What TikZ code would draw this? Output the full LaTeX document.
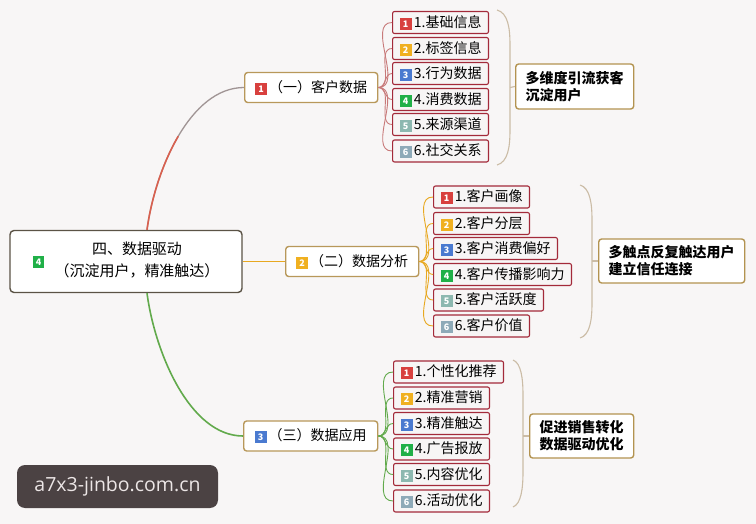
\documentclass[tikz,border=0pt]{standalone}
\usepackage{fontspec}
\setmainfont{Noto Sans CJK SC}
\newfontfamily\wmfont{Open Sans}
\usetikzlibrary{calc}
\definecolor{bg}{HTML}{F8F6F6}
\definecolor{itemred}{HTML}{A32A3A}
\definecolor{itemfill}{HTML}{F7F5F5}
\definecolor{tanc}{HTML}{B8985A}
\definecolor{rootc}{HTML}{5B5346}
\definecolor{goldc}{HTML}{B39350}
\definecolor{bracec}{HTML}{CBBCA6}
\definecolor{b1}{HTML}{D8403E}
\definecolor{b2}{HTML}{F0B020}
\definecolor{b3}{HTML}{4A7AD0}
\definecolor{b4}{HTML}{20B048}
\definecolor{b5}{HTML}{8DB8B0}
\definecolor{b6}{HTML}{8EAAB8}
\definecolor{redl}{HTML}{D9604F}
\definecolor{grayl}{HTML}{A09494}
\definecolor{redt}{HTML}{C87A7A}
\definecolor{orl}{HTML}{E8A820}
\definecolor{grl}{HTML}{62AA4C}
\definecolor{wmbg}{HTML}{4B4243}
\definecolor{wmtx}{HTML}{ECE6E6}
\newcommand\bdg[2]{{\setlength\fboxsep{0pt}\colorbox{#1}{\makebox[12pt][c]{\rule[-2.5pt]{0pt}{12pt}\color{white}\fontsize{9}{9}\selectfont\bfseries #2}}}}
\tikzset{
  itembox/.style={draw=itemred, fill=itemfill, line width=1.1pt, rounded corners=2pt,
    minimum height=22pt, inner xsep=7pt, inner ysep=0pt, anchor=west,
    font=\fontsize{14}{14}\selectfont},
  branchbox/.style={draw=tanc, fill=white, line width=1.4pt, rounded corners=3pt,
    minimum height=30pt, inner xsep=8pt, anchor=west, font=\fontsize{14}{14}\selectfont},
  sumbox/.style={draw=goldc, fill=white, line width=1.4pt, rounded corners=3pt,
    align=left, anchor=west, inner xsep=9pt, inner ysep=6pt,
    font=\fontsize{14}{17}\selectfont\bfseries},
  rootbox/.style={draw=rootc, fill=white, line width=1.4pt, rounded corners=4pt,
    minimum width=232pt, minimum height=62pt, font=\fontsize{15}{22}\selectfont},
  brace/.style={draw=bracec, line width=1.1pt},
  c1/.style={draw=redt, line width=0.9pt},
  c2/.style={draw=orl, line width=0.9pt},
  c3/.style={draw=grl, line width=0.9pt},
}
\begin{document}
\begin{tikzpicture}[x=1pt,y=-1pt]
\fill[bg] (0,0) rectangle (756,524);
\useasboundingbox (0,0) rectangle (756,524);

% root
\node[rootbox] (root) at (126,261.5) {\bdg{b4}{4}\hspace{10pt}\begin{tabular}{@{}c@{}}四、数据驱动\\（沉淀用户，精准触达）\end{tabular}};

% branches
\node[branchbox, minimum width=133pt] (br1) at (244,87.5) {\bdg{b1}{1}\hspace{2pt}（一）客户数据};
\node[branchbox, minimum width=133pt] (br2) at (285,261.5) {\bdg{b2}{2}\hspace{2pt}（二）数据分析};
\node[branchbox, minimum width=134pt] (br3) at (243,436) {\bdg{b3}{3}\hspace{2pt}（三）数据应用};

% root connectors
\coordinate (r1) at ([xshift=21pt]root.north);
\coordinate (r1m) at (178.25,136.25);
\draw[grayl, line width=1.3pt] (r1) .. controls (155,170) and (190,87.5) .. (br1.west);
\draw[redl, line width=1.6pt] (r1) .. controls (151,200) and (161.75,164.375) .. (r1m);
\draw[orl, line width=1.6pt] (root.east) -- (br2.west);
\draw[grl, line width=1.6pt] ([xshift=21pt]root.south) .. controls (155,353) and (190,436) .. (br3.west);

% group 1 items
\node[itembox] (a1) at (392,22.5) {\bdg{b1}{1}\,1.基础信息};
\node[itembox] (a2) at (392,48.5) {\bdg{b2}{2}\,2.标签信息};
\node[itembox] (a3) at (392,73.5) {\bdg{b3}{3}\,3.行为数据};
\node[itembox] (a4) at (392,99.5) {\bdg{b4}{4}\,4.消费数据};
\node[itembox] (a5) at (392,124.5) {\bdg{b5}{5}\,5.来源渠道};
\node[itembox] (a6) at (392,151) {\bdg{b6}{6}\,6.社交关系};
\foreach \i in {1,...,6} \draw[c1] (br1.east) to[out=0,in=180] (a\i.west);

% group 2 items
\node[itembox] (d1) at (433,197) {\bdg{b1}{1}\,1.客户画像};
\node[itembox] (d2) at (433,223.5) {\bdg{b2}{2}\,2.客户分层};
\node[itembox] (d3) at (433,248.5) {\bdg{b3}{3}\,3.客户消费偏好};
\node[itembox] (d4) at (433,274.5) {\bdg{b4}{4}\,4.客户传播影响力};
\node[itembox] (d5) at (433,300) {\bdg{b5}{5}\,5.客户活跃度};
\node[itembox] (d6) at (433,326) {\bdg{b6}{6}\,6.客户价值};
\foreach \i in {1,...,6} \draw[c2] (br2.east) to[out=0,in=180] (d\i.west);

% group 3 items
\node[itembox] (g1) at (393,372) {\bdg{b1}{1}\,1.个性化推荐};
\node[itembox] (g2) at (393,398) {\bdg{b2}{2}\,2.精准营销};
\node[itembox] (g3) at (393,423.5) {\bdg{b3}{3}\,3.精准触达};
\node[itembox] (g4) at (393,449) {\bdg{b4}{4}\,4.广告报放};
\node[itembox] (g5) at (393,474.5) {\bdg{b5}{5}\,5.内容优化};
\node[itembox] (g6) at (393,501) {\bdg{b6}{6}\,6.活动优化};
\foreach \i in {1,...,6} \draw[c3] (br3.east) to[out=0,in=180] (g\i.west);

% summaries
\node[sumbox, minimum width=118pt, minimum height=45pt] (s1) at (515,86.5) {多维度引流获客\\沉淀用户};
\node[sumbox, minimum width=146pt, minimum height=44pt] (s2) at (598,261) {多触点反复触达用户\\建立信任连接};
\node[sumbox, minimum width=104pt, minimum height=44pt] (s3) at (529,436) {促进销售转化\\数据驱动优化};

% braces
\coordinate (t1) at (497,10); \coordinate (u1) at (497,165); \coordinate (m1) at (510,87.5);
\draw[brace] (t1) .. controls (508,13) and (510,28) .. (510,45) -- (510,130) .. controls (510,147) and (508,162) .. (u1);
\draw[brace] (m1) -- (s1.west);
\coordinate (t2) at (580,185); \coordinate (u2) at (580,338); \coordinate (m2) at (592,261);
\draw[brace] (t2) .. controls (590,188) and (592,203) .. (592,220) -- (592,303) .. controls (592,320) and (590,335) .. (u2);
\draw[brace] (m2) -- (s2.west);
\coordinate (t3) at (513,360); \coordinate (u3) at (513,507); \coordinate (m3) at (523,436);
\draw[brace] (t3) .. controls (521,363) and (523,378) .. (523,395) -- (523,472) .. controls (523,489) and (521,504) .. (u3);
\draw[brace] (m3) -- (s3.west);

% overlay label
\node[fill=wmbg, rounded corners=8pt, minimum width=201pt, minimum height=43pt, inner sep=0pt,
  text=wmtx, font=\wmfont\fontsize{19.5}{20}\selectfont] (wm) at (117.5,486.5) {a7x3-jinbo.com.cn};
\end{tikzpicture}
\end{document}
